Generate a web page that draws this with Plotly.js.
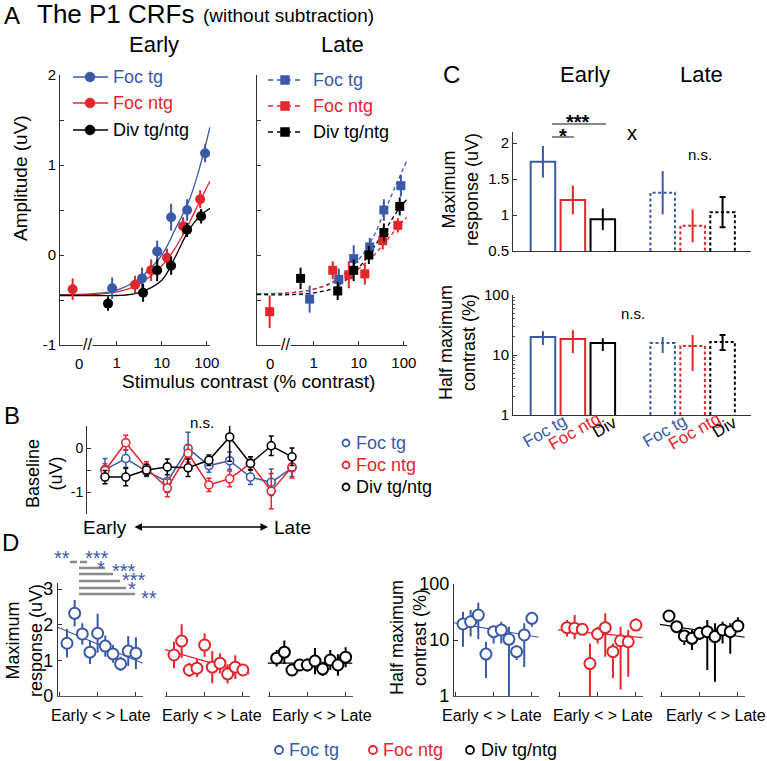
<!DOCTYPE html>
<html>
<head>
<meta charset="utf-8">
<script src="https://cdn.plot.ly/plotly-3.0.1.min.js"></script>
<style>
  body { margin: 0; background: white; }
  #myDiv { width: 767px; height: 761px; }
</style>
</head>
<body>
<div id="myDiv"></div>
<script>
// ---- Panel A: contrast response functions (contrast %, amplitude uV) ----
var zeroStandIn = 0.105; // where the 0% contrast points sit on the log axis

var earlyTgC = [0.79, 3.65, 7.9, 16.1, 36.5, 91.5];
var earlyTgAmp = [-0.37, -0.26, 0.04, 0.42, 0.50, 1.13];
var earlyTgErr = [0.12, 0.12, 0.12, 0.15, 0.12, 0.10];
var earlyNtgC = [0, 2.55, 5.8, 13.1, 29.7, 71];
var earlyNtgAmp = [-0.38, -0.33, -0.17, -0.03, 0.32, 0.62];
var earlyNtgErr = [0.12, 0.10, 0.12, 0.10, 0.10, 0.10];
var earlyDivC = [0.64, 3.84, 7.9, 16.1, 36.5, 74.6];
var earlyDivAmp = [-0.54, -0.42, -0.17, -0.12, 0.28, 0.43];
var earlyDivErr = [0.08, 0.10, 0.12, 0.10, 0.08, 0.08];

var lateTgC = [0.81, 3.6, 7.7, 17.5, 36, 86];
var lateTgAmp = [-0.49, -0.27, -0.04, 0.09, 0.50, 0.77];
var lateTgErr = [0.15, 0.12, 0.15, 0.10, 0.12, 0.12];
var lateNtgC = [0, 2.64, 6.0, 13.6, 34, 73.6];
var lateNtgAmp = [-0.63, -0.17, -0.22, -0.21, 0.16, 0.33];
var lateNtgErr = [0.18, 0.10, 0.15, 0.12, 0.10, 0.08];
var lateDivC = [0.51, 3.4, 7.7, 16.7, 36, 81];
var lateDivAmp = [-0.26, -0.40, -0.17, 0.00, 0.25, 0.54];
var lateDivErr = [0.12, 0.10, 0.12, 0.10, 0.10, 0.10];

// fitted curves
var fitC = [0.055, 0.3, 1, 3, 10, 20, 40, 70, 117];
var fitEarlyTg = [-0.44, -0.43, -0.39, -0.27, 0.00, 0.29, 0.60, 0.98, 1.42];
var fitEarlyNtg = [-0.44, -0.44, -0.41, -0.33, -0.12, 0.08, 0.35, 0.60, 0.82];
var fitEarlyDiv = [-0.45, -0.45, -0.45, -0.42, -0.28, -0.02, 0.28, 0.43, 0.52];
var fitLateTg = [-0.43, -0.42, -0.38, -0.28, -0.05, 0.18, 0.52, 0.80, 1.05];
var fitLateNtg = [-0.43, -0.42, -0.38, -0.30, -0.15, -0.02, 0.15, 0.30, 0.42];
var fitLateDiv = [-0.44, -0.44, -0.42, -0.36, -0.14, 0.06, 0.29, 0.48, 0.62];

// ---- Panel B: baseline per time bin ----
var bins = [1, 2, 3, 4, 5, 6, 7, 8, 9, 10];
var baseTg = [-0.49, -0.24, -0.53, -0.76, -0.01, -0.40, -0.29, -0.66, -0.78, -0.45];
var baseTgErr = [0.25, 0.20, 0.12, 0.25, 0.37, 0.15, 0.20, 0.17, 0.30, 0.20];
var baseNtg = [-0.51, 0.12, -0.46, -0.91, -0.12, -0.84, -0.70, -0.35, -0.98, -0.43];
var baseNtgErr = [0.15, 0.17, 0.15, 0.20, 0.20, 0.15, 0.18, 0.15, 0.40, 0.25];
var baseDiv = [-0.66, -0.66, -0.50, -0.43, -0.45, -0.28, 0.25, -0.35, 0.05, -0.20];
var baseDivErr = [0.15, 0.20, 0.13, 0.18, 0.20, 0.12, 0.55, 0.15, 0.22, 0.20];

// ---- Panel C: fitted parameters ----
var condNames = ['Foc tg', 'Foc ntg', 'Div'];
var maxEarly = [1.74, 1.21, 0.94];
var maxEarlyErr = [0.22, 0.20, 0.15];
var maxLate = [1.31, 0.85, 1.04];
var maxLateErr = [0.30, 0.23, 0.21];
var halfEarly = [20, 18.5, 15.8];
var halfEarlyHi = [25, 26, 19];
var halfEarlyLo = [14.7, 10.8, 11.7];
var halfLate = [15.8, 14.1, 16.5];
var halfLateHi = [20, 21.5, 21.5];
var halfLateLo = [10.8, 5.4, 12.1];

// ---- Panel D: parameters per time bin ----
var dMaxTg = [1.48, 2.32, 1.74, 1.23, 1.76, 1.40, 1.18, 0.90, 1.26, 1.20];
var dMaxTgErr = [0.40, 0.37, 0.30, 0.33, 0.55, 0.30, 0.25, 0.20, 0.42, 0.45];
var dMaxNtg = [1.15, 1.54, 0.73, 0.78, 1.43, 0.81, 0.92, 0.62, 0.81, 0.73];
var dMaxNtgErr = [0.37, 0.47, 0.20, 0.25, 0.33, 0.45, 0.28, 0.27, 0.33, 0.15];
var dMaxDiv = [1.06, 1.23, 0.73, 0.87, 0.87, 0.98, 0.76, 1.01, 0.87, 1.09];
var dMaxDivErr = [0.23, 0.33, 0.12, 0.14, 0.18, 0.37, 0.20, 0.28, 0.30, 0.28];

var dHalfTg = [19.3, 21.2, 27.9, 5.6, 14.1, 15.1, 10.3, 6.2, 12.3, 24.4];
var dHalfTgHi = [32, 34.3, 46.4, 9.3, 17.3, 21.2, 17.3, 8.1, 19.9, 29.9];
var dHalfTgLo = [7.6, 11.5, 10.3, 2.1, 8.7, 8.7, 0.9, 4.4, 3.3, 17.3];
var dHalfNtg = [16.6, 16.2, 15.5, 3.8, 12.8, 16.6, 6.2, 9.7, 9.3, 18.5];
var dHalfNtgHi = [22.7, 27.9, 19.9, 8.7, 17.3, 29.9, 8.7, 17.3, 15.1, 24.4];
var dHalfNtgLo = [11.5, 10.3, 12.3, 0.9, 8.7, 5.0, 2.1, 1.3, 2.2, 15.1];
var dHalfDiv = [26.8, 17.3, 11.8, 10.7, 13.2, 14.1, 11.5, 15.1, 14.1, 17.8];
var dHalfDivHi = [32, 21.2, 15.1, 15.1, 17.3, 22.7, 19.9, 21.2, 19.9, 25.5];
var dHalfDivLo = [22.7, 14.1, 8.1, 6.6, 10.0, 2.9, 1.8, 8.7, 5.7, 14.1];

// regression lines (values at both ends of each axis)
var dFitX = [-0.2, 10.9];
var dMaxFitTg = [1.93, 0.92];
var dMaxFitNtg = [1.30, 0.62];
var dMaxFitDiv = [0.92, 0.92];
var dHalfFitTg = [20.3, 11.2];
var dHalfFitNtg = [15.2, 11.0];
var dHalfFitDiv = [19.0, 11.2];

// ---------------------------------------------------------------
var W = 767, H = 761;
var BLUE = '#3a5aa8', RED = '#e3262b', BLACK = '#000000', GREY = '#8a8a8a';
var FONT = '"Liberation Sans", Arial, Helvetica, sans-serif';

function fx(p) { return p / W; }
function fy(p) { return 1 - p / H; }
function xdom(a, b) { return [fx(a), fx(b)]; }
function ydom(top, bottom) { return [fy(bottom), fy(top)]; }

function axis(extra) {
  var base = {
    showgrid: false, zeroline: false, showline: true,
    linecolor: '#333', linewidth: 1, ticks: 'inside', ticklen: 4,
    tickcolor: '#333', tickfont: {family: FONT, size: 15, color: '#000'},
    fixedrange: true
  };
  return Object.assign(base, extra);
}

var traces = [];

// --- panel A ---
function curve(c, v, color, dash, xa, ya) {
  traces.push({
    x: c, y: v, xaxis: xa, yaxis: ya, type: 'scatter', mode: 'lines',
    line: {color: color, width: 1.3, dash: dash, shape: 'spline'},
    hoverinfo: 'skip'
  });
}
function crfPoints(c, v, e, color, symbol, xa, ya) {
  traces.push({
    x: c.map(function (d) { return d === 0 ? zeroStandIn : d; }),
    y: v, xaxis: xa, yaxis: ya, type: 'scatter', mode: 'markers',
    marker: {color: color, symbol: symbol, size: symbol === 'circle' ? 10 : 9},
    error_y: {type: 'data', array: e, color: color, thickness: 2, width: 0}
  });
}
curve(fitC, fitEarlyTg, BLUE, 'solid', 'x', 'y');
curve(fitC, fitEarlyNtg, RED, 'solid', 'x', 'y');
curve(fitC, fitEarlyDiv, BLACK, 'solid', 'x', 'y');
crfPoints(earlyTgC, earlyTgAmp, earlyTgErr, BLUE, 'circle', 'x', 'y');
crfPoints(earlyNtgC, earlyNtgAmp, earlyNtgErr, RED, 'circle', 'x', 'y');
crfPoints(earlyDivC, earlyDivAmp, earlyDivErr, BLACK, 'circle', 'x', 'y');

curve(fitC, fitLateTg, BLUE, '4px,3px', 'x2', 'y2');
curve(fitC, fitLateNtg, RED, '4px,3px', 'x2', 'y2');
curve(fitC, fitLateDiv, BLACK, '4px,3px', 'x2', 'y2');
crfPoints(lateTgC, lateTgAmp, lateTgErr, BLUE, 'square', 'x2', 'y2');
crfPoints(lateNtgC, lateNtgAmp, lateNtgErr, RED, 'square', 'x2', 'y2');
crfPoints(lateDivC, lateDivAmp, lateDivErr, BLACK, 'square', 'x2', 'y2');

// --- panel B ---
function baseline(v, e, color) {
  traces.push({
    x: bins, y: v, xaxis: 'x3', yaxis: 'y3', type: 'scatter', mode: 'lines+markers',
    line: {color: color, width: 1.5},
    marker: {symbol: 'circle', size: 8, color: 'white', line: {color: color, width: 1.6}},
    error_y: {type: 'data', array: e, color: color, thickness: 1.5, width: 2.5}
  });
}
baseline(baseTg, baseTgErr, BLUE);
baseline(baseNtg, baseNtgErr, RED);
baseline(baseDiv, baseDivErr, BLACK);

// --- panel C ---
var condColors = [BLUE, RED, BLACK];
var slotsEarly = [1, 2, 3];
var slotsLate = [5, 6, 7];
var barHalf = 0.41;
function solidBar(slot, v, up, down, color, xa, ya) {
  traces.push({
    type: 'bar', x: [slot], y: [v], width: barHalf * 2, xaxis: xa, yaxis: ya,
    marker: {color: 'white', line: {color: color, width: 2}},
    error_y: {type: 'data', symmetric: false, array: [up], arrayminus: [down],
              color: color, thickness: 2, width: 0}
  });
}
function dashedBar(slot, v, up, down, color, floor, xa, ya, cap) {
  traces.push({
    type: 'scatter', mode: 'lines', xaxis: xa, yaxis: ya, hoverinfo: 'skip',
    x: [slot - barHalf, slot - barHalf, slot + barHalf, slot + barHalf],
    y: [floor, v, v, floor],
    line: {color: color, width: 2, dash: '3px,2.5px'}
  });
  traces.push({
    type: 'scatter', mode: 'markers', xaxis: xa, yaxis: ya, x: [slot], y: [v],
    marker: {size: 2, color: color},
    error_y: {type: 'data', symmetric: false, array: [up], arrayminus: [down],
              color: color, thickness: 2, width: cap}
  });
}
for (var i = 0; i < 3; i++) {
  solidBar(slotsEarly[i], maxEarly[i], maxEarlyErr[i], maxEarlyErr[i], condColors[i], 'x4', 'y4');
  dashedBar(slotsLate[i], maxLate[i], maxLateErr[i], maxLateErr[i], condColors[i], 0.5, 'x4', 'y4', i === 2 ? 3 : 0);
  solidBar(slotsEarly[i], halfEarly[i], halfEarlyHi[i] - halfEarly[i], halfEarly[i] - halfEarlyLo[i], condColors[i], 'x5', 'y5');
  dashedBar(slotsLate[i], halfLate[i], halfLateHi[i] - halfLate[i], halfLate[i] - halfLateLo[i], condColors[i], 1, 'x5', 'y5', i === 2 ? 3 : 0);
}

// --- panel D ---
function dFit(v, color, xa, ya) {
  traces.push({
    x: dFitX, y: v, xaxis: xa, yaxis: ya, type: 'scatter', mode: 'lines',
    line: {color: color, width: 1.2}, hoverinfo: 'skip'
  });
}
function dPoints(v, up, down, color, xa, ya) {
  traces.push({
    x: bins, y: v, xaxis: xa, yaxis: ya, type: 'scatter', mode: 'markers',
    marker: {symbol: 'circle', size: 11, color: 'white', line: {color: color, width: 2}},
    error_y: {type: 'data', symmetric: false, array: up, arrayminus: down,
              color: color, thickness: 2, width: 0}
  });
}
function hiLo(v, hi, lo) {
  return [hi.map(function (h, k) { return h - v[k]; }),
          lo.map(function (l, k) { return v[k] - l; })];
}
dFit(dMaxFitTg, BLUE, 'x6', 'y6');
dPoints(dMaxTg, dMaxTgErr, dMaxTgErr, BLUE, 'x6', 'y6');
dFit(dMaxFitNtg, RED, 'x7', 'y7');
dPoints(dMaxNtg, dMaxNtgErr, dMaxNtgErr, RED, 'x7', 'y7');
dFit(dMaxFitDiv, BLACK, 'x8', 'y8');
dPoints(dMaxDiv, dMaxDivErr, dMaxDivErr, BLACK, 'x8', 'y8');

var eTg = hiLo(dHalfTg, dHalfTgHi, dHalfTgLo);
var eNtg = hiLo(dHalfNtg, dHalfNtgHi, dHalfNtgLo);
var eDiv = hiLo(dHalfDiv, dHalfDivHi, dHalfDivLo);
dFit(dHalfFitTg, BLUE, 'x9', 'y9');
dPoints(dHalfTg, eTg[0], eTg[1], BLUE, 'x9', 'y9');
dFit(dHalfFitNtg, RED, 'x10', 'y10');
dPoints(dHalfNtg, eNtg[0], eNtg[1], RED, 'x10', 'y10');
dFit(dHalfFitDiv, BLACK, 'x11', 'y11');
dPoints(dHalfDiv, eDiv[0], eDiv[1], BLACK, 'x11', 'y11');

// ---------------------------------------------------------------
// text and legend pieces (paper coordinates from pixel positions)
var notes = [];
var shapes = [];
function label(text, x, y, size, opts) {
  var a = {
    text: text, x: fx(x), y: fy(y), xref: 'paper', yref: 'paper',
    showarrow: false, xanchor: 'center', yanchor: 'middle',
    font: {family: FONT, size: size, color: '#000'}
  };
  return notes.push(Object.assign(a, opts || {}));
}

label('A', 12, 16, 24);
label('The P1 CRFs', 35, 14, 26, {xanchor: 'left'});
label('(without subtraction)', 201, 16, 19, {xanchor: 'left'});
label('Early', 154, 44, 22);
label('Late', 342, 44, 22);
label('Amplitude (uV)', 20, 178, 19, {textangle: -90});
label('Stimulus contrast (% contrast)', 248, 381, 19);
label('0', 79, 363, 15);
label('0', 270, 363, 15);
label('//', 87, 344, 16, {bgcolor: 'white', borderpad: 0});
label('//', 285, 344, 16, {bgcolor: 'white', borderpad: 0});

label('B', 12, 415, 24);
label('Baseline<br>(uV)', 44, 474, 18, {textangle: -90});
label('n.s.', 202, 422, 15);
label('Early', 105, 527, 19);
label('Late', 292, 527, 19);
notes.push({
  text: '', x: fx(268), y: fy(527), xref: 'paper', yref: 'paper',
  showarrow: true, ax: -135, ay: 0, axref: 'pixel', ayref: 'pixel',
  arrowhead: 2, arrowside: 'end+start', arrowsize: 1, arrowwidth: 1.5, arrowcolor: '#000'
});

label('C', 451, 75, 24);
label('Early', 585, 75, 22);
label('Late', 701, 75, 22);
label('Maximum<br>response (uV)', 461, 190, 18, {textangle: -90});
label('Half maximum<br>contrast (%)', 457, 343, 18, {textangle: -90});
label('<b>***</b>', 578, 122, 20);
label('<b>*</b>', 563, 136, 20);
label('x', 632, 133, 20);
label('n.s.', 700, 154, 15);
label('n.s.', 633, 313, 15);
for (var k = 0; k < 3; k++) {
  [slotsEarly[k], slotsLate[k]].forEach(function (s) {
    notes.push({
      text: condNames[k], x: s + 0.05, xref: 'x5', y: fy(k === 2 ? 427 : 431), yref: 'paper',
      showarrow: false, textangle: -30, xanchor: 'center', yanchor: 'middle',
      font: {family: FONT, size: 17, color: condColors[k]}
    });
  });
}
shapes.push({type: 'line', xref: 'paper', yref: 'paper', x0: fx(552), x1: fx(606),
  y0: fy(124), y1: fy(124), line: {color: GREY, width: 2}});
shapes.push({type: 'line', xref: 'paper', yref: 'paper', x0: fx(552), x1: fx(574),
  y0: fy(137), y1: fy(137), line: {color: GREY, width: 2}});

label('D', 10, 542, 24);
label('Maximum<br>response (uV)', 24, 641, 18, {textangle: -90});
label('Half maximum<br>contrast (%)', 408, 638, 18, {textangle: -90});
[101, 212, 322, 492, 603, 716].forEach(function (cx) {
  label('Early &lt; &gt; Late', cx, 715, 16);
});
// significance bars between time bins
[[70, 77, 562], [80, 87, 562], [79, 105, 568], [79, 113, 574], [79, 120, 581],
 [79, 126, 588], [79, 135, 594]].forEach(function (s) {
  shapes.push({type: 'line', xref: 'paper', yref: 'paper', x0: fx(s[0]), x1: fx(s[1]),
    y0: fy(s[2]), y1: fy(s[2]), line: {color: GREY, width: 2.5}});
});
[['**', 62, 553], ['***', 97, 553], ['*', 101, 563], ['***', 124, 566],
 ['***', 134, 575], ['*', 132, 584], ['**', 149, 593]].forEach(function (s) {
  label(s[0], s[1], s[2] + 5, 20, {font: {family: FONT, size: 20, color: BLUE}});
});

// legends
function legText(t, x, y, color, size) {
  label(t, x, y, size, {xanchor: 'left', font: {family: FONT, size: size, color: color}});
}
function legLine(x0, x1, y, color, dash) {
  shapes.push({type: 'line', xref: 'paper', yref: 'paper', x0: fx(x0), x1: fx(x1),
    y0: fy(y), y1: fy(y), line: {color: color, width: 1.5, dash: dash}});
}
function legMark(kind, x, y, r, color, filled) {
  shapes.push({type: kind, xref: 'paper', yref: 'paper', x0: fx(x - r), x1: fx(x + r),
    y0: fy(y + r), y1: fy(y - r), fillcolor: filled ? color : 'white',
    line: {color: color, width: filled ? 0.5 : 1.8}});
}
var legNames = ['Foc tg', 'Foc ntg', 'Div tg/ntg'];
var earlyLegY = [77, 103, 130], lateLegY = [80, 106, 132], bLegY = [443, 465, 487];
for (var j = 0; j < 3; j++) {
  legLine(73, 108, earlyLegY[j], condColors[j], 'solid');
  legMark('circle', 90, earlyLegY[j], 5, condColors[j], true);
  legText(legNames[j], 111, earlyLegY[j], condColors[j], 18);

  legLine(268, 302, lateLegY[j], condColors[j], '5px,4px');
  legMark('rect', 285, lateLegY[j], 4.5, condColors[j], true);
  legText(legNames[j], 311, lateLegY[j], condColors[j], 18);

  legMark('circle', 346, bLegY[j], 3.5, condColors[j], false);
  legText(legNames[j], 354, bLegY[j], condColors[j], 18);
}
[[279, 287], [373, 381], [470, 479]].forEach(function (p, n) {
  legMark('circle', p[0], 750, 4, condColors[n], false);
  legText(legNames[n], p[1], 750, condColors[n], 18);
});

// ---------------------------------------------------------------
var logMinor = [];
[1, 10].forEach(function (dec) {
  for (var m = 2; m <= 9; m++) logMinor.push(m * dec);
});

var layout = {
  width: W, height: H,
  margin: {l: 0, r: 0, t: 0, b: 0},
  paper_bgcolor: 'white', plot_bgcolor: 'rgba(0,0,0,0)',
  showlegend: false, barmode: 'overlay',
  font: {family: FONT, color: '#000'},

  xaxis: axis({domain: xdom(60, 210), type: 'log', range: [-1.26, 2.07],
    tickvals: [1, 10, 100], ticktext: ['1', '10', '100'], anchor: 'y', ticklabelstandoff: 4}),
  yaxis: axis({domain: ydom(75, 345), range: [-1, 2], anchor: 'x',
    tickvals: [-1, -0.5, 0, 0.5, 1, 1.5, 2], ticktext: ['-1', '', '0', '', '1', '', '2']}),
  xaxis2: axis({domain: xdom(257, 407), type: 'log', range: [-1.26, 2.07],
    tickvals: [1, 10, 100], ticktext: ['1', '10', '100'], anchor: 'y2', ticklabelstandoff: 4}),
  yaxis2: axis({domain: ydom(75, 345), range: [-1, 2], anchor: 'x2',
    tickvals: [-1, -0.5, 0, 0.5, 1, 1.5, 2], showticklabels: false}),

  xaxis3: axis({domain: xdom(87, 300), range: [0.134, 10.385], anchor: 'y3', visible: false}),
  yaxis3: axis({domain: ydom(426, 514), range: [-1.5, 0.5], anchor: 'x3',
    tickvals: [-1.5, -1, -0.5, 0, 0.5], ticktext: ['', '-1', '', '0', ''],
    tickfont: {family: FONT, size: 14, color: '#000'}}),

  xaxis4: axis({domain: xdom(513, 751), range: [0, 7.95], anchor: 'y4',
    ticks: '', showticklabels: false}),
  yaxis4: axis({domain: ydom(132, 251), range: [0.5, 2.153], anchor: 'x4',
    tickvals: [0.5, 1, 1.5, 2], ticktext: ['0.5', '1', '1.5', '2']}),
  xaxis5: axis({domain: xdom(513, 751), range: [0, 7.95], anchor: 'y5',
    ticks: '', showticklabels: false}),
  yaxis5: axis({domain: ydom(295, 415), type: 'log', range: [0, 2], anchor: 'x5',
    tickvals: [1, 10, 100], ticktext: ['1', '10', '100'],
    minor: {ticks: 'inside', ticklen: 2, tickcolor: '#555', tickvals: logMinor}}),

  annotations: notes,
  shapes: shapes
};

// panel D axes: three linear and three log sub-axes
var dLeft = [[57.8, 142.8], [164.8, 249.8], [267.5, 352.5]];
var dRight = [[453.8, 538.8], [557.8, 642.8], [659.8, 744.8]];
for (var n = 0; n < 3; n++) {
  var a1 = 6 + n, a2 = 9 + n;
  layout['xaxis' + a1] = axis({domain: xdom(dLeft[n][0], dLeft[n][1]), range: [-0.2, 10.9],
    anchor: 'y' + a1, tickvals: [0, 5, 10], showticklabels: false, linecolor: '#555'});
  layout['yaxis' + a1] = axis({domain: ydom(583, 696), range: [0, 3.17], anchor: 'x' + a1,
    tickvals: [0, 1, 2, 3], visible: n === 0,
    tickfont: {family: FONT, size: 18, color: '#000'}});
  layout['xaxis' + a2] = axis({domain: xdom(dRight[n][0], dRight[n][1]), range: [-0.2, 10.9],
    anchor: 'y' + a2, tickvals: [0, 5, 10], showticklabels: false, linecolor: '#555'});
  layout['yaxis' + a2] = axis({domain: ydom(584, 696), type: 'log', range: [0, 2],
    anchor: 'x' + a2, tickvals: [1, 10, 100], ticktext: ['1', '10', '100'], visible: n === 0,
    tickfont: {family: FONT, size: 18, color: '#000'}});
}

Plotly.newPlot('myDiv', traces, layout, {staticPlot: true, displayModeBar: false});
</script>
</body>
</html>
